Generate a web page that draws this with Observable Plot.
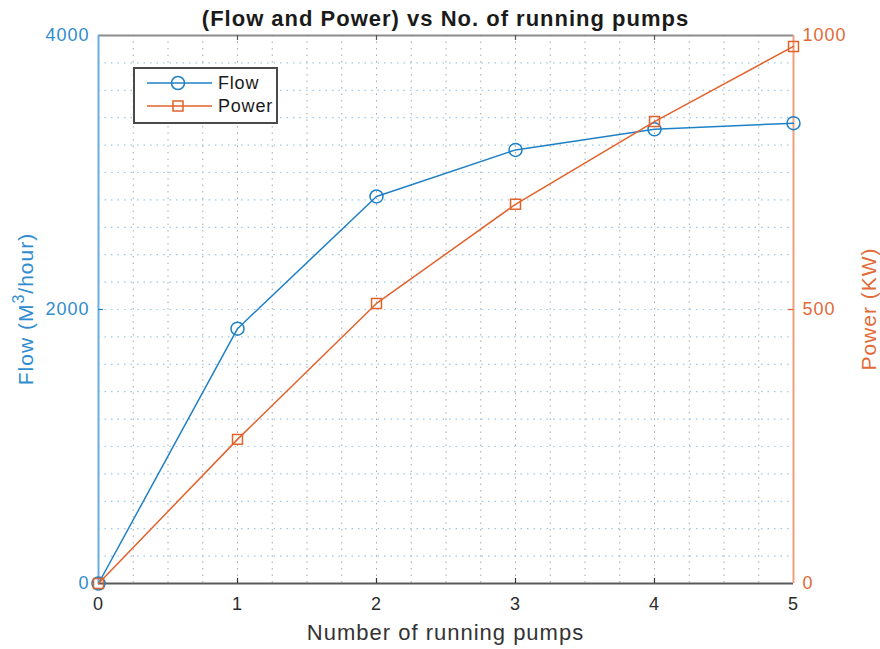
<!DOCTYPE html>
<html>
<head>
<meta charset="utf-8">
<script src="https://cdn.jsdelivr.net/npm/d3@7"></script>
<script src="https://cdn.jsdelivr.net/npm/@observablehq/plot@0.6"></script>
<style>
  body { margin: 0; background: #fff; }
  #chart svg { display: block; }
</style>
</head>
<body>
<div id="chart"></div>
<script>
// Pump count vs. flow (left axis) and power draw (right axis)
const pumps = [0, 1, 2, 3, 4, 5];
const flow = [0, 1860, 2825, 3165, 3315, 3360];   // M^3/hour
const power = [0, 263, 511, 692, 843, 980];       // KW
const xTicks = [0, 1, 2, 3, 4, 5];
const flowTicks = [0, 2000, 4000];
const powerTicks = [0, 500, 1000];
const flowMax = 4000;
const powerMax = 1000;

const titleText = "(Flow and Power) vs No. of running pumps";
const xLabel = "Number of running pumps";
const seriesNames = ["Flow", "Power"];

// Colours
const blue = "#1f80c6", blueAxis = "#6aaee0", blueText = "#2f8ccf", blueGrid = "#9cc8ea";
const orange = "#e2622c", orangeAxis = "#eea080", orangeText = "#e26a38";
const greyGrid = "#a8a8a8";

// Layout
const W = 880, H = 649;
const mL = 98, mR = 87, mT = 35, mB = 66;
const innerW = W - mL - mR, innerH = H - mT - mB;
const font = "'Liberation Sans', Arial, Helvetica, sans-serif";

// Power shares the y scale, scaled so its 0..1000 range maps onto 0..4000
const k = flowMax / powerMax;
const flowRows = pumps.map((p, i) => ({p, v: flow[i]}));
const powerRows = pumps.map((p, i) => ({p, v: power[i] * k}));

const chart = Plot.plot({
  width: W,
  height: H,
  marginLeft: mL,
  marginRight: mR,
  marginTop: mT,
  marginBottom: mB,
  x: {domain: [0, 5]},
  y: {domain: [0, flowMax]},
  style: {fontFamily: font, fontSize: "18px", letterSpacing: "1px", background: "#fff", overflow: "visible"},
  marks: [
    // dotted minor grid
    Plot.gridX(d3.range(0.25, 5, 0.25), {stroke: greyGrid, strokeOpacity: 1, strokeWidth: 1, strokeDasharray: "1.5,5"}),
    Plot.gridY(d3.range(200, flowMax, 200), {stroke: blueGrid, strokeOpacity: 1, strokeWidth: 1.2, strokeDasharray: "1.5,5"}),

    // axis box
    Plot.ruleY([flowMax], {stroke: "#8c8c8c", strokeWidth: 2}),
    Plot.ruleY([0], {stroke: "#5a5a5a", strokeWidth: 2}),
    Plot.ruleX([0], {stroke: blueAxis, strokeWidth: 2}),
    Plot.ruleX([5], {stroke: orangeAxis, strokeWidth: 2}),

    // inward tick marks
    Plot.tickX(xTicks.slice(1, -1), {x: d => d, insetTop: innerH - 5, stroke: "#333", strokeWidth: 1.2}),
    Plot.tickX(xTicks.slice(1, -1), {x: d => d, insetBottom: innerH - 5, stroke: "#555", strokeWidth: 1.2}),
    Plot.tickY(flowTicks.slice(1, -1), {y: d => d, insetRight: innerW - 5, stroke: blue, strokeWidth: 1.2}),
    Plot.tickY(powerTicks.slice(1, -1), {y: d => d * k, insetLeft: innerW - 5, stroke: orange, strokeWidth: 1.2}),

    // tick labels
    Plot.axisX({ticks: xTicks, tickSize: 0, tickPadding: 14, color: "#2b2b2b", label: null, tickFormat: d => String(d)}),
    Plot.axisY({anchor: "left", ticks: flowTicks, tickSize: 0, tickPadding: 9, color: blueText, label: null, tickFormat: d => String(d)}),
    Plot.axisY({anchor: "right", ticks: powerTicks.map(v => v * k), tickSize: 0, tickPadding: 9, color: orangeText, label: null, tickFormat: d => String(d / k)}),

    // series
    Plot.line(flowRows, {x: "p", y: "v", stroke: blue, strokeWidth: 1.5}),
    Plot.dot(flowRows, {x: "p", y: "v", r: 6.5, symbol: "circle", stroke: blue, strokeWidth: 1.5, fill: "none"}),
    Plot.line(powerRows, {x: "p", y: "v", stroke: orange, strokeWidth: 1.5}),
    Plot.dot(powerRows, {x: "p", y: "v", r: 5.6, symbol: "square", stroke: orange, strokeWidth: 1.5, fill: "none"})
  ]
});

const svg = d3.select(chart);

// title
svg.append("text")
  .attr("x", mL + innerW / 2).attr("y", 26)
  .attr("text-anchor", "middle")
  .style("font-family", font).style("font-size", "22px").style("font-weight", "bold")
  .style("letter-spacing", "1px").attr("fill", "#1a1a1a")
  .text(titleText);

// x-axis label
svg.append("text")
  .attr("x", mL + innerW / 2).attr("y", 640)
  .attr("text-anchor", "middle")
  .style("font-family", font).style("font-size", "22px").style("letter-spacing", "1px")
  .attr("fill", "#333")
  .text(xLabel);

// left y-axis label with superscript
const yl = svg.append("text")
  .attr("transform", `translate(33,${mT + innerH / 2}) rotate(-90)`)
  .attr("text-anchor", "middle")
  .style("font-family", font).style("font-size", "21px").style("letter-spacing", "1px")
  .attr("fill", blueText);
yl.append("tspan").text("Flow (M");
yl.append("tspan").attr("dy", -9).style("font-size", "16px").text("3");
yl.append("tspan").attr("dy", 9).text("/hour)");

// right y-axis label
svg.append("text")
  .attr("transform", `translate(876,${mT + innerH / 2}) rotate(-90)`)
  .attr("text-anchor", "middle")
  .style("font-family", font).style("font-size", "21px").style("letter-spacing", "1px")
  .attr("fill", orangeText)
  .text("Power (KW)");

// legend
const lg = svg.append("g");
lg.append("rect").attr("x", 134).attr("y", 68).attr("width", 143).attr("height", 55)
  .attr("fill", "#fff").attr("stroke", "#4a4a4a").attr("stroke-width", 2);
const legendRows = [
  {name: seriesNames[0], color: blue, shape: "circle", y: 83},
  {name: seriesNames[1], color: orange, shape: "square", y: 106}
];
for (const r of legendRows) {
  lg.append("line").attr("x1", 147).attr("x2", 212).attr("y1", r.y).attr("y2", r.y)
    .attr("stroke", r.color).attr("stroke-width", 1.5);
  if (r.shape === "circle") {
    lg.append("circle").attr("cx", 178).attr("cy", r.y).attr("r", 6.5)
      .attr("fill", "none").attr("stroke", r.color).attr("stroke-width", 1.5);
  } else {
    lg.append("rect").attr("x", 173).attr("y", r.y - 5).attr("width", 10).attr("height", 10)
      .attr("fill", "none").attr("stroke", r.color).attr("stroke-width", 1.5);
  }
  lg.append("text").attr("x", 218).attr("y", r.y + 6)
    .attr("text-anchor", "start")
    .style("font-family", font).style("font-size", "18px").style("letter-spacing", "0.8px")
    .attr("fill", "#1a1a1a").text(r.name);
}

document.getElementById("chart").appendChild(chart);
</script>
</body>
</html>
